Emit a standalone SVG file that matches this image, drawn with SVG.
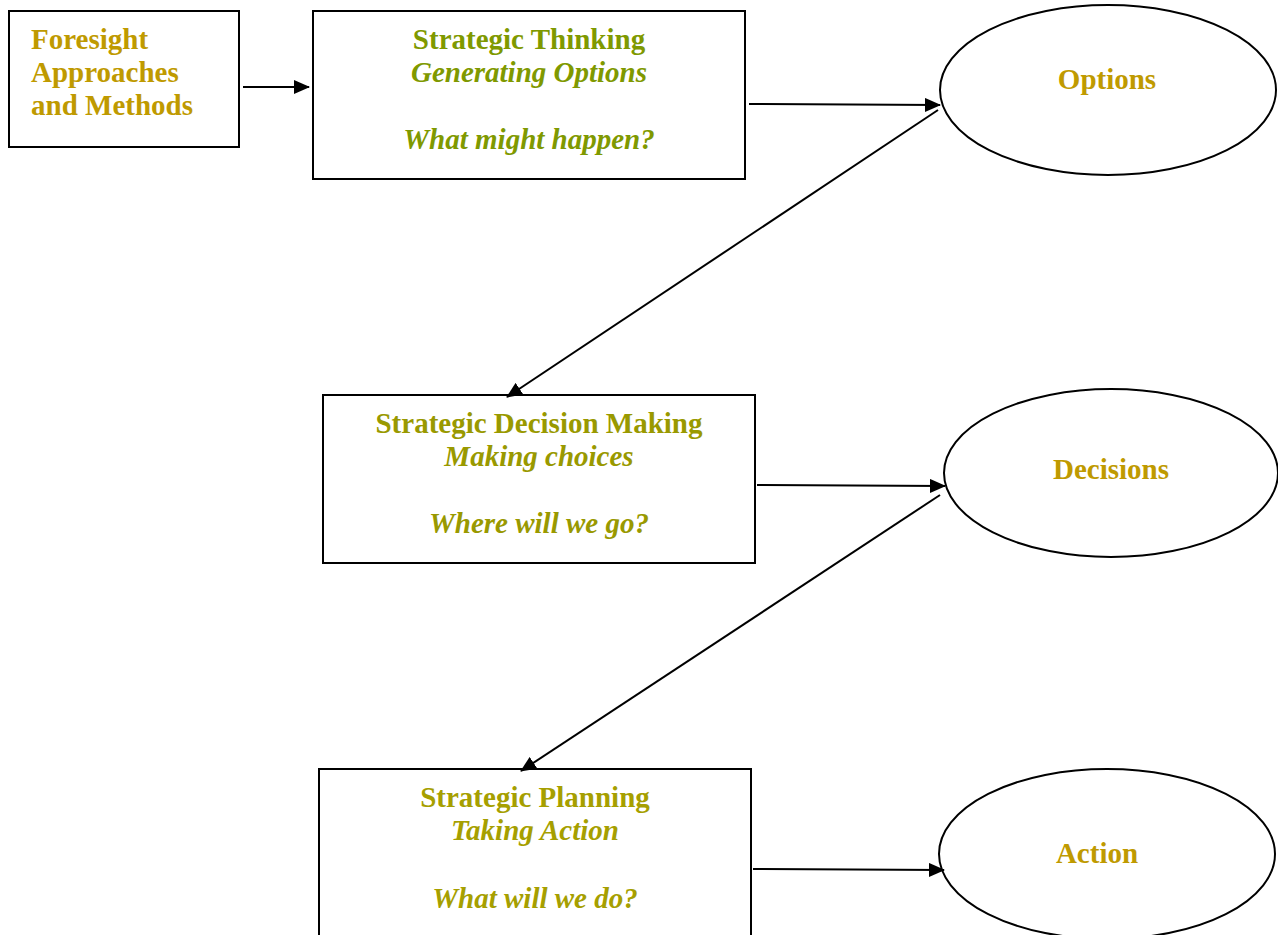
<svg xmlns="http://www.w3.org/2000/svg" width="1278" height="935" viewBox="0 0 1278 935">
<defs>
<style>
.box{fill:#fff;stroke:#000;stroke-width:2}
.ell{fill:#fff;stroke:#000;stroke-width:2}
text{font-family:"Liberation Serif","Times New Roman",serif;font-size:29px;font-weight:bold}
.c{text-anchor:middle}
.i{font-style:italic}
.gold{fill:#BF9A00}
.g1{fill:#7F9900}
.g2{fill:#999900}
.g3{fill:#A69F00}
.conn{stroke:#000;stroke-width:2;fill:none;marker-end:url(#ah)}
</style>
<marker id="ah" markerWidth="16" markerHeight="14" refX="15" refY="7" orient="auto" markerUnits="userSpaceOnUse" viewBox="0 0 16 14">
<path d="M0,0 L16,7 L0,14 z" fill="#000"/>
</marker>
</defs>
<rect width="1278" height="935" fill="#fff"/>
<g id="foresight">
<rect class="box" x="9" y="11" width="230" height="136"/>
<text class="gold" x="31" y="49">Foresight</text>
<text class="gold" x="31" y="82">Approaches</text>
<text class="gold" x="31" y="115">and Methods</text>
</g>
<g id="thinking">
<rect class="box" x="313" y="11" width="432" height="168"/>
<text class="c g1" x="529" y="49">Strategic Thinking</text>
<text class="c g1 i" x="529" y="82">Generating Options</text>
<text class="c g1 i" x="529" y="149">What might happen?</text>
</g>
<g id="options">
<ellipse class="ell" cx="1108" cy="90" rx="168" ry="85"/>
<text class="c gold" x="1107" y="89">Options</text>
</g>
<g id="decision">
<rect class="box" x="323" y="395" width="432" height="168"/>
<text class="c g2" x="539" y="433">Strategic Decision Making</text>
<text class="c g2 i" x="539" y="466">Making choices</text>
<text class="c g2 i" x="539" y="533">Where will we go?</text>
</g>
<g id="decisions">
<ellipse class="ell" cx="1111" cy="473" rx="167" ry="84"/>
<text class="c gold" x="1111" y="479">Decisions</text>
</g>
<g id="planning">
<rect class="box" x="319" y="769" width="432" height="175"/>
<text class="c g3" x="535" y="807">Strategic Planning</text>
<text class="c g3 i" x="535" y="840">Taking Action</text>
<text class="c g3 i" x="535" y="908">What will we do?</text>
</g>
<g id="action">
<ellipse class="ell" cx="1107" cy="854" rx="168" ry="85"/>
<text class="c gold" x="1097" y="863">Action</text>
</g>
<g id="connectors">
<line class="conn" x1="243" y1="87" x2="309" y2="87"/>
<line class="conn" x1="749" y1="104" x2="940" y2="105"/>
<line class="conn" x1="938" y1="110" x2="507" y2="397"/>
<line class="conn" x1="757" y1="485" x2="945" y2="486"/>
<line class="conn" x1="940" y1="495" x2="521" y2="771"/>
<line class="conn" x1="753" y1="869" x2="944" y2="870"/>
</g>
</svg>
